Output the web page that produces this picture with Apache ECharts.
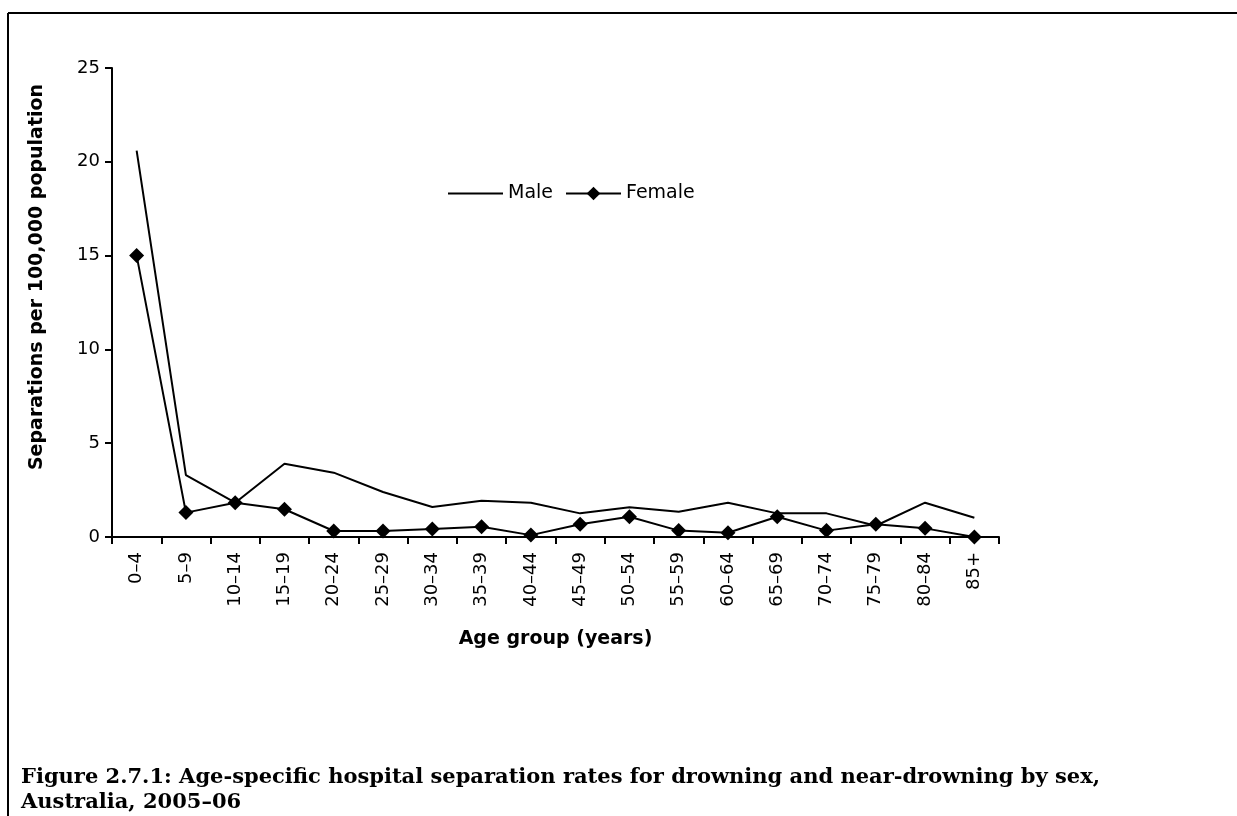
<!DOCTYPE html>
<html>
<head>
<meta charset="utf-8">
<script src="https://cdn.jsdelivr.net/npm/echarts@6/dist/echarts.min.js"></script>
<style>
html,body{margin:0;padding:0;background:#fff;}
#chart{width:1237px;height:816px;}
</style>
</head>
<body>
<div id="chart"></div>
<script>
const categories = ['0–4','5–9','10–14','15–19','20–24','25–29','30–34','35–39','40–44','45–49','50–54','55–59','60–64','65–69','70–74','75–79','80–84','85+'];
const maleValues = [20.6, 3.3, 1.83, 3.9, 3.43, 2.4, 1.6, 1.93, 1.83, 1.26, 1.58, 1.35, 1.83, 1.26, 1.26, 0.6, 1.83, 1.03];
const femaleValues = [15.0, 1.3, 1.83, 1.48, 0.32, 0.32, 0.43, 0.55, 0.1, 0.68, 1.08, 0.34, 0.23, 1.08, 0.34, 0.68, 0.46, 0.0];
const yTicks = [0, 5, 10, 15, 20, 25];

const sans = '"DejaVu Sans", "Liberation Sans", Arial, sans-serif';
const lineIcon = 'path://M0,7.5 L55,7.5 L55,9.5 L0,9.5 Z M0,0 L0.01,0 L0,0.01 Z M0,17 L0.01,17 L0,16.99 Z';
const chart = echarts.init(document.getElementById('chart'), null, {renderer: 'canvas'});
chart.setOption({
  animation: false,
  backgroundColor: '#ffffff',
  title: {
    text: 'Figure 2.7.1: Age-specific hospital separation rates for drowning and near-drowning by sex,\nAustralia, 2005–06',
    left: 16,
    top: 760,
    textStyle: {
      fontFamily: '"DejaVu Serif", "Liberation Serif", serif',
      fontWeight: 'bold',
      fontSize: 21,
      lineHeight: 25,
      color: '#000'
    }
  },
  legend: {
    left: 443,
    top: 179,
    itemWidth: 55,
    itemHeight: 17,
    itemGap: 12,
    textStyle: {fontFamily: sans, fontSize: 19, color: '#000'},
    data: [{name: 'Male', icon: lineIcon}, {name: 'Female'}]
  },
  grid: {left: 112, top: 68, width: 887, height: 469, containLabel: false},
  xAxis: {
    type: 'category',
    data: categories,
    boundaryGap: true,
    name: 'Age group (years)',
    nameLocation: 'middle',
    nameGap: 93,
    nameTextStyle: {fontFamily: sans, fontWeight: 'bold', fontSize: 19, color: '#000'},
    axisLine: {lineStyle: {color: '#000', width: 2}},
    axisTick: {show: true, length: 7, lineStyle: {color: '#000', width: 2}},
    axisLabel: {rotate: 90, margin: 15, fontFamily: sans, fontSize: 18, color: '#000', interval: 0},
    splitLine: {show: false}
  },
  yAxis: {
    type: 'value',
    min: 0,
    max: 25,
    interval: 5,
    axisLine: {show: true, lineStyle: {color: '#000', width: 2}},
    axisTick: {show: true, length: 7, lineStyle: {color: '#000', width: 2}},
    axisLabel: {
      margin: 12, fontFamily: sans, fontSize: 18, color: '#000',
      formatter: v => yTicks.includes(v) ? String(v) : ''
    },
    splitLine: {show: false}
  },
  graphic: [
    {type: 'line', shape: {x1: 8, y1: 13, x2: 1237, y2: 13}, style: {stroke: '#000', lineWidth: 2}},
    {type: 'line', shape: {x1: 8, y1: 13, x2: 8, y2: 816}, style: {stroke: '#000', lineWidth: 2}},
    {
      type: 'text', x: 37, y: 277, rotation: Math.PI / 2,
      style: {
        text: 'Separations per 100,000 population',
        align: 'center', verticalAlign: 'middle',
        font: 'bold 19px ' + sans, fill: '#000'
      }
    }
  ],
  series: [
    {
      name: 'Male',
      type: 'line',
      data: maleValues,
      symbol: 'none',
      lineStyle: {color: '#000', width: 2},
      itemStyle: {color: '#000'}
    },
    {
      name: 'Female',
      type: 'line',
      data: femaleValues,
      symbol: 'diamond',
      symbolSize: 15,
      lineStyle: {color: '#000', width: 2},
      itemStyle: {color: '#000'}
    }
  ]
});
</script>
</body>
</html>
